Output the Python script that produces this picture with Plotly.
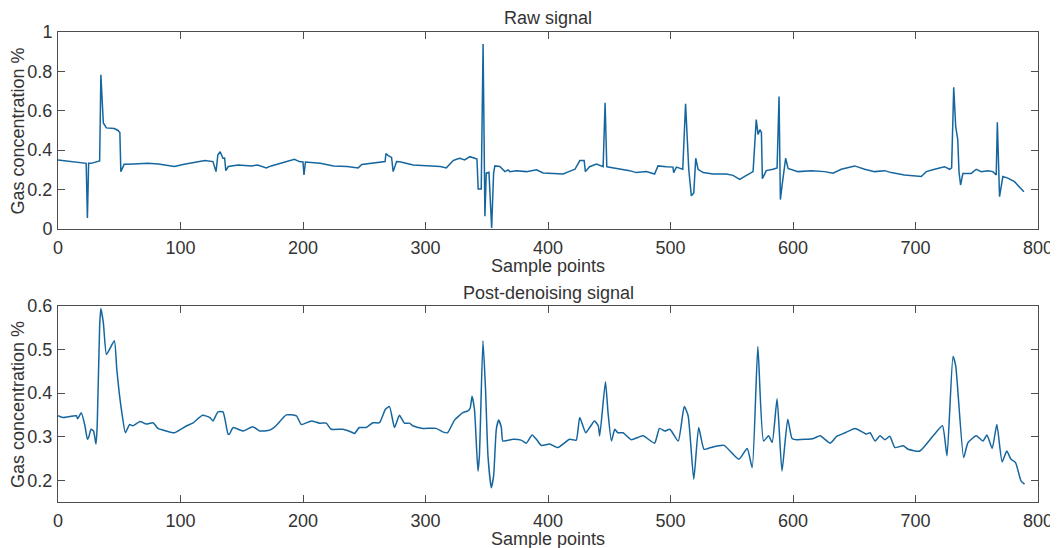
import plotly.graph_objects as go
from plotly.subplots import make_subplots

# === Datos ===
raw_x = [0, 8, 16, 23, 24, 25, 27, 32, 34, 35, 36, 37, 39.5, 46, 49, 50.5, 51.3, 54, 62, 73,
         82, 90, 95, 103, 111, 120, 126.5, 129, 130.5, 132.4, 134.6, 136, 137, 139, 147, 158,
         163, 170, 174, 181, 188, 193, 197, 200, 200.8, 202, 214, 225, 236, 245, 248, 255, 263,
         267, 267.7, 269.6, 272.3, 273.6, 276.4, 279, 290, 301, 312, 317, 322.6, 325.3, 328,
         332, 336.2, 340.3, 342, 343, 345.5, 347, 348.5, 349.6, 351.8, 354, 355.6, 356.6, 360.7,
         364.8, 367.5, 368.8, 374.3, 382.4, 390.6, 396, 404, 412.3, 419, 422, 426, 429.5, 430.5,
         434, 439.5, 445, 446.6, 448, 449, 458.6, 466.7, 472, 480.3, 487, 489.8, 496.6, 502,
         502.6, 504.8, 510, 512.3, 514.9, 517, 519, 520.6, 522.5, 526.6, 534.7, 545.6, 551,
         556.5, 562, 567.4, 570, 571.5, 573, 574.2, 575, 578.2, 583.7, 587, 588.6, 589.7, 591,
         594, 596, 604, 615, 625.8, 632.6, 639.4, 650.3, 658.5, 666.6, 674.8, 680.2, 691, 704.7,
         708.8, 715.6, 723.7, 727.8, 729.5, 731.2, 732.8, 734.5, 735.5, 736.8, 738.7, 745.5,
         749.6, 753.7, 759, 763.2, 765.9, 766.8, 768.6, 771.3, 775.4, 780.8, 784.9, 788.5]
raw_y = [0.350, 0.345, 0.338, 0.333, 0.056, 0.333, 0.333, 0.342, 0.345, 0.783, 0.62, 0.538,
         0.513, 0.51, 0.50, 0.49, 0.291, 0.328, 0.330, 0.333, 0.330, 0.320, 0.317, 0.328, 0.336,
         0.347, 0.342, 0.291, 0.376, 0.392, 0.359, 0.36, 0.296, 0.317, 0.325, 0.320, 0.325,
         0.31, 0.32, 0.333, 0.347, 0.354, 0.342, 0.340, 0.274, 0.340, 0.333, 0.320, 0.317, 0.31,
         0.327, 0.333, 0.338, 0.342, 0.383, 0.372, 0.363, 0.291, 0.342, 0.341, 0.325, 0.320,
         0.317, 0.31, 0.347, 0.354, 0.359, 0.350, 0.367, 0.359, 0.355, 0.203, 0.203, 0.939,
         0.064, 0.284, 0.288, 0.005, 0.284, 0.32, 0.317, 0.291, 0.300, 0.291, 0.296, 0.291,
         0.300, 0.284, 0.282, 0.279, 0.296, 0.303, 0.347, 0.347, 0.291, 0.316, 0.33, 0.316,
         0.64, 0.316, 0.314, 0.303, 0.296, 0.286, 0.291, 0.279, 0.32, 0.316, 0.314, 0.286, 0.314,
         0.303, 0.636, 0.303, 0.168, 0.183, 0.359, 0.303, 0.286, 0.279, 0.279, 0.272, 0.252,
         0.272, 0.291, 0.555, 0.479, 0.504, 0.49, 0.255, 0.296, 0.303, 0.31, 0.673, 0.149, 0.217,
         0.359, 0.307, 0.291, 0.296, 0.291, 0.283, 0.303, 0.320, 0.303, 0.291, 0.296, 0.286,
         0.274, 0.266, 0.291, 0.303, 0.316, 0.303, 0.31, 0.719, 0.521, 0.453, 0.291, 0.223,
         0.282, 0.282, 0.303, 0.291, 0.296, 0.291, 0.274, 0.541, 0.164, 0.266, 0.258, 0.24,
         0.215, 0.189]

den_x = [0, 4, 15, 16, 19, 22, 24, 25, 27, 29, 31, 32, 34, 35, 37, 39.5, 42, 46, 48, 50, 52.5,
         55, 58.5, 61, 67, 72, 77.6, 81.6, 88.4, 95, 105, 110, 118, 124, 126.5, 130.6, 134.7,
         138.8, 140, 143, 151, 159, 164.6, 172.8, 178, 186.4, 194.6, 198.6, 206.8, 213.6, 219,
         223, 232.6, 240.8, 242, 246, 251.5, 257, 262.4, 267.3, 270.6, 274.7, 278.7, 282.8, 287,
         289.6, 297.8, 308.7, 314, 318, 323.7, 330.5, 334.6, 336.5, 338, 340, 342.8, 344, 346.9,
         349, 351, 353.7, 355.6, 357.8, 359.7, 361.9, 363.2, 371.4, 378, 382.3, 387, 390.5,
         394.5, 401.4, 408, 417.7, 423, 425.9, 430.8, 434, 438, 441, 442.2, 446.9, 449, 451.8,
         454.5, 457, 461.3, 468, 477.6, 487, 491, 495.4, 499.5, 506.3, 511.2, 514.4, 519, 523,
         527.4, 532.8, 543.6, 555.8, 562.6, 566.7, 571.3, 576, 580, 583, 587, 591, 595.7, 599.2,
         603.3, 616.8, 622.2, 630.4, 635.8, 642.6, 650.7, 660, 662.9, 667, 671, 675, 679, 683.2,
         690, 694, 703.5, 714.4, 722, 725.7, 730.6, 732.8, 739.3, 742.8, 749.6, 755, 758.3,
         762.6, 766.4, 770.7, 774.5, 778, 781.6, 786.2, 789]
den_y = [0.348, 0.344, 0.348, 0.341, 0.355, 0.325, 0.294, 0.298, 0.317, 0.313, 0.283, 0.325,
         0.554, 0.594, 0.562, 0.489, 0.50, 0.52, 0.455, 0.40, 0.348, 0.309, 0.328, 0.325, 0.335,
         0.329, 0.332, 0.319, 0.313, 0.309, 0.325, 0.331, 0.349, 0.344, 0.336, 0.357, 0.357,
         0.306, 0.306, 0.321, 0.313, 0.323, 0.313, 0.315, 0.325, 0.35, 0.348, 0.328, 0.336,
         0.331, 0.331, 0.317, 0.317, 0.309, 0.307, 0.321, 0.321, 0.332, 0.332, 0.363, 0.369,
         0.321, 0.349, 0.331, 0.331, 0.325, 0.319, 0.319, 0.311, 0.309, 0.338, 0.355, 0.359,
         0.366, 0.393, 0.362, 0.221, 0.256, 0.52, 0.409, 0.256, 0.183, 0.21, 0.317, 0.338, 0.321,
         0.29, 0.294, 0.292, 0.285, 0.304, 0.294, 0.28, 0.283, 0.275, 0.294, 0.292, 0.344, 0.309,
         0.321, 0.336, 0.325, 0.302, 0.426, 0.355, 0.29, 0.317, 0.309, 0.309, 0.293, 0.302,
         0.285, 0.319, 0.313, 0.317, 0.29, 0.369, 0.348, 0.202, 0.321, 0.271, 0.275, 0.28, 0.248,
         0.273, 0.229, 0.507, 0.29, 0.302, 0.287, 0.387, 0.221, 0.34, 0.296, 0.293, 0.296, 0.302,
         0.285, 0.301, 0.309, 0.319, 0.306, 0.309, 0.29, 0.302, 0.293, 0.301, 0.275, 0.279,
         0.271, 0.267, 0.302, 0.325, 0.256, 0.484, 0.463, 0.252, 0.286, 0.302, 0.29, 0.304,
         0.273, 0.328, 0.242, 0.267, 0.248, 0.241, 0.198, 0.191]

LINE_COLOR = "#15669f"
AXIS_COLOR = "#4d4d4d"
TEXT_COLOR = "#333333"
FONT = "Liberation Sans, Arial, sans-serif"

fig = make_subplots(rows=2, cols=1)

fig.add_trace(go.Scatter(x=raw_x, y=raw_y, mode="lines",
                         line=dict(color=LINE_COLOR, width=1.5), showlegend=False),
              row=1, col=1)
# la señal filtrada es suave: se dibuja con spline
fig.add_trace(go.Scatter(x=den_x, y=den_y, mode="lines",
                         line=dict(color=LINE_COLOR, width=1.5, shape="spline", smoothing=0.5),
                         showlegend=False),
              row=2, col=1)

ejes = dict(showline=True, linecolor=AXIS_COLOR, linewidth=1, mirror="allticks",
            ticks="inside", ticklen=7, tickcolor=AXIS_COLOR, showgrid=False, zeroline=False,
            automargin=False, tickfont=dict(size=18, color=TEXT_COLOR, family=FONT))

fig.update_xaxes(range=[0, 800], dtick=100, ticklabelstandoff=2, **ejes)
fig.update_yaxes(ticklabelstandoff=1, **ejes)
fig.update_xaxes(domain=[0, 1])
fig.update_yaxes(range=[0, 1], dtick=0.2, domain=[0.581, 1.0], row=1, col=1)
fig.update_yaxes(range=[0.15, 0.6], dtick=0.1, domain=[0.0, 0.417], row=2, col=1)

textos = [
    ("Raw signal", 0.5, 1.03, 0),
    ("Post-denoising signal", 0.5, 0.445, 0),
    ("Sample points", 0.5, 0.502, 0),
    ("Sample points", 0.5, -0.079, 0),
    ("Gas concentration %", -0.041, 0.79, -90),
    ("Gas concentration %", -0.041, 0.208, -90),
]
for txt, x, y, ang in textos:
    fig.add_annotation(text=txt, x=x, y=y, xref="paper", yref="paper",
                       xanchor="center", yanchor="middle", textangle=ang,
                       showarrow=False, font=dict(size=18, color=TEXT_COLOR, family=FONT))

# la página añade 8 px de margen al body: se compensa en los márgenes
fig.update_layout(width=1050, height=540, margin=dict(l=50, r=20, t=24, b=46),
                  plot_bgcolor="white", paper_bgcolor="white",
                  font=dict(family=FONT, color=TEXT_COLOR))

fig.write_html("out.html")
